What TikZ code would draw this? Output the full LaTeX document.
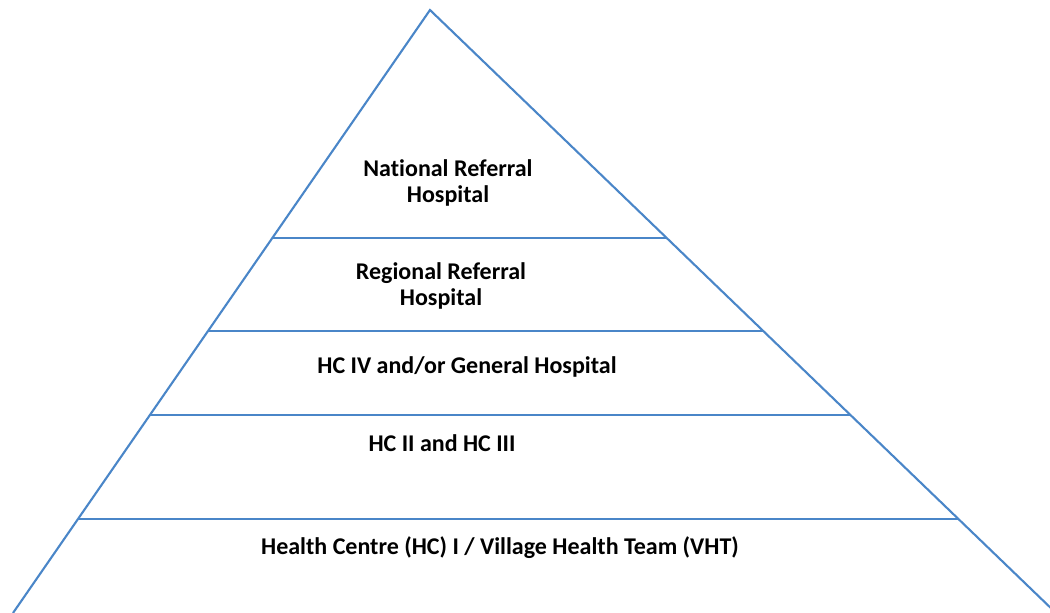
\documentclass[tikz,border=0pt]{standalone}
\usepackage{fontspec}
\setmainfont[Ligatures=NoCommon]{Carlito}
\definecolor{pyr}{RGB}{74,134,200}
\begin{document}
\begin{tikzpicture}[x=1pt,y=-1pt,
  edge/.style={draw=pyr,line width=2.1pt},
  lbl/.style={font=\bfseries\fontsize{24}{26}\selectfont,align=center,text=black,inner sep=0pt}]
\useasboundingbox (0,0) rectangle (1050,613);
\coordinate (apex) at (430,10);
\coordinate (bl) at (13,613);
\coordinate (br) at (1056,613);
\draw[edge] (bl) -- (apex) -- (br);
\foreach \y/\n in {238/a,331/b,415/c,519/d}{
  \path (bl) -- (apex) coordinate[pos={(613-\y)/603}] (l\n);
  \path (br) -- (apex) coordinate[pos={(613-\y)/603}] (r\n);
  \draw[edge] (l\n) -- (r\n);
}
\node[lbl] (t1) at (448,183) {National Referral\\Hospital};
\node[lbl] (t2) at (441,286) {Regional Referral\\Hospital};
\node[lbl] (t3) at (467,367) {HC IV and/or General Hospital};
\node[lbl] (t4) at (442,443) {HC II and HC III};
\node[lbl] (t5) at (500,548) {Health Centre (HC) I / Village Health Team (VHT)};
\end{tikzpicture}
\end{document}
